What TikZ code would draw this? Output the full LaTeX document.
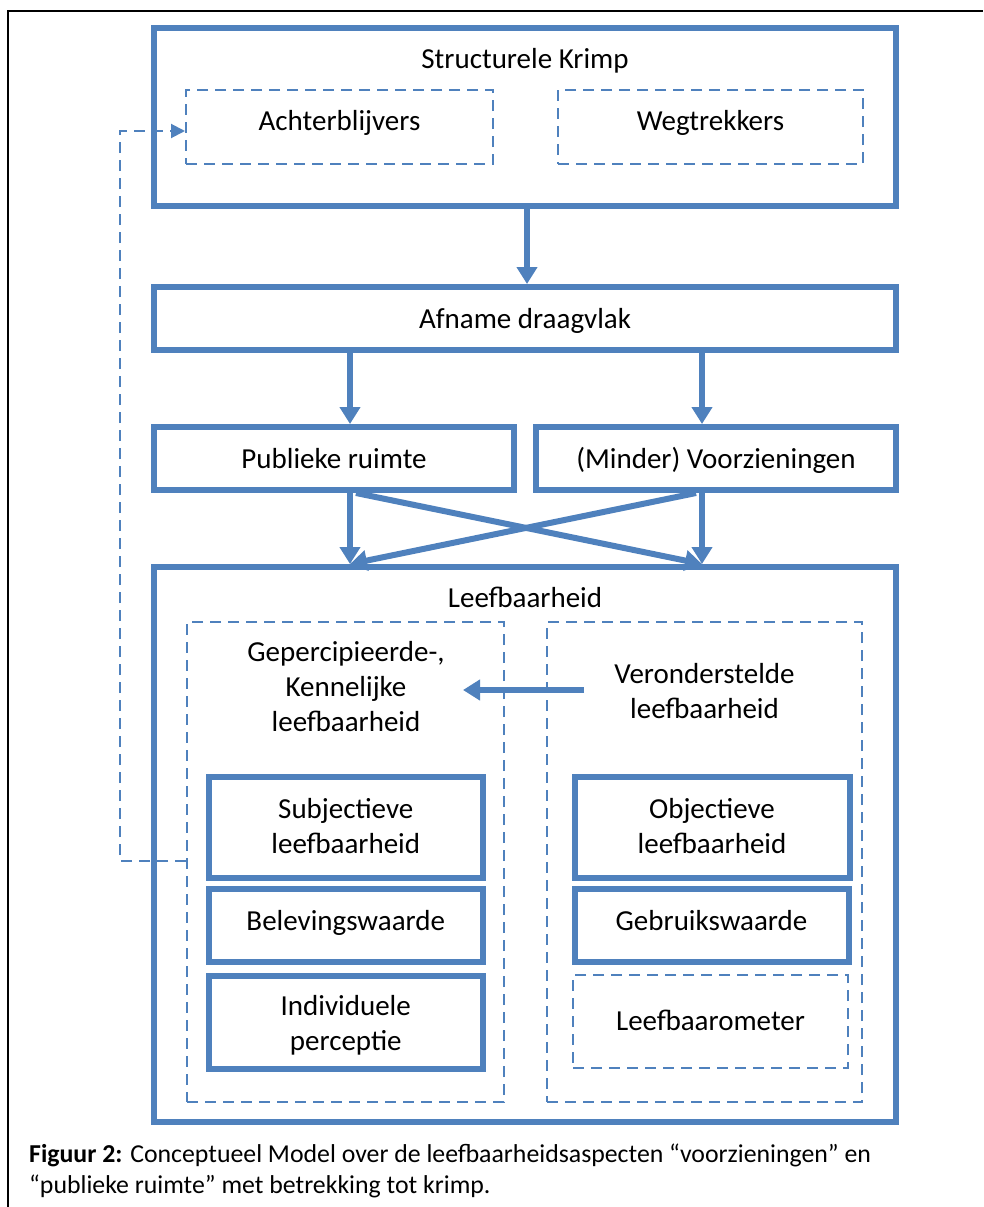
\documentclass[tikz,border=0pt]{standalone}
\usepackage{fontspec}
\setmainfont{Carlito}
\usetikzlibrary{arrows.meta,calc}
\definecolor{blu}{HTML}{4F81BD}
\begin{document}
\begin{tikzpicture}[x=1pt,y=-1pt,
  box/.style={draw=blu, line width=6pt, rectangle, inner sep=0pt},
  dbox/.style={draw=blu, line width=2pt, dash pattern=on 11pt off 7pt, rectangle, inner sep=0pt},
  txt/.style={font=\fontsize{29}{35}\selectfont, inner sep=0pt, anchor=base, text=black},
  arr/.style={draw=blu, line width=6pt, -{Triangle[length=17pt,width=20pt]}},
  fb/.style={draw=blu, line width=2pt, dash pattern=on 11pt off 7pt, -{Triangle[length=14pt,width=14pt]}},
  captxt/.style={font=\fontsize{25.8}{32}\selectfont, inner sep=0pt, anchor=base west, text=black}]
\useasboundingbox (0,0) rectangle (983,1207);
\fill[white] (0,0) rectangle (983,1207);
\draw[line width=2.5pt] (8,1207) -- (8,11) -- (983,11);

% top block
\node[box, minimum width=742pt, minimum height=178pt] (sk) at (525,117) {};
\node[txt] (skt) at (525,69) {Structurele Krimp};
\node[dbox, minimum width=307pt, minimum height=74pt] (achter) at (339.5,127) {};
\node[txt] (achtert) at (339.5,130) {Achterblijvers};
\node[dbox, minimum width=305pt, minimum height=74pt] (weg) at (710.5,127) {};
\node[txt] (wegt) at (710.5,130) {Wegtrekkers};

\node[box, minimum width=742pt, minimum height=63pt] (afn) at (525,318.5) {};
\node[txt] (afnt) at (525,328) {Afname draagvlak};

\node[box, minimum width=360pt, minimum height=63pt] (pub) at (334,458.5) {};
\node[txt] (pubt) at (334,468) {Publieke ruimte};
\node[box, minimum width=360pt, minimum height=63pt] (voor) at (716,458.5) {};
\node[txt] (voort) at (716,468) {(Minder) Voorzieningen};

% Leefbaarheid block
\node[box, minimum width=742pt, minimum height=555pt] (leef) at (525,844.5) {};
\node[txt] (leeft) at (525,607) {Leefbaarheid};
\node[dbox, minimum width=317pt, minimum height=480pt] (gep) at (345.5,862) {};
\node[dbox, minimum width=315pt, minimum height=480pt] (ver) at (704.5,862) {};
\node[txt] (gep1) at (346,661) {Gepercipieerde-,};
\node[txt] (gep2) at (346,696) {Kennelijke};
\node[txt] (gep3) at (346,731) {leefbaarheid};
\node[txt] (ver1) at (704.5,683) {Veronderstelde};
\node[txt] (ver2) at (704.5,718) {leefbaarheid};

\node[box, minimum width=274.5pt, minimum height=101pt] (subj) at (345.75,827.5) {};
\node[txt] (subj1) at (345.75,818) {Subjectieve};
\node[txt] (subj2) at (345.75,853) {leefbaarheid};
\node[box, minimum width=274.5pt, minimum height=73pt] (bel) at (345.75,925.5) {};
\node[txt] (belt) at (345.75,930) {Belevingswaarde};
\node[box, minimum width=274.5pt, minimum height=93.5pt] (ind) at (345.75,1022.25) {};
\node[txt] (ind1) at (345.75,1015) {Individuele};
\node[txt] (ind2) at (345.75,1050) {perceptie};

\node[box, minimum width=275.5pt, minimum height=101pt] (obj) at (712.25,827.5) {};
\node[txt] (obj1) at (712,818) {Objectieve};
\node[txt] (obj2) at (712,853) {leefbaarheid};
\node[box, minimum width=274.5pt, minimum height=73pt] (geb) at (711.75,925.5) {};
\node[txt] (gebt) at (711.5,930) {Gebruikswaarde};
\node[dbox, minimum width=275pt, minimum height=93pt] (lbm) at (710.5,1021.5) {};
\node[txt] (lbmt) at (710.5,1030) {Leefbaarometer};

% connectors
\coordinate (xm) at (527,0);
\coordinate (xl) at (350,0);
\coordinate (xr) at (702,0);
\coordinate (xls) at (356,0);
\coordinate (xrs) at (696,0);
\draw[arr] (sk.south -| xm) -- (afn.north -| xm);
\draw[arr] (afn.south -| xl) -- (pub.north -| xl);
\draw[arr] (afn.south -| xr) -- (voor.north -| xr);
\draw[arr] (pub.south -| xl) -- (leef.north -| xl);
\draw[arr] (voor.south -| xr) -- (leef.north -| xr);
\draw[arr] (pub.south -| xls) -- (leef.north -| xr);
\draw[arr] (voor.south -| xrs) -- (leef.north -| xl);

\coordinate (hs) at (584,690);
\coordinate (he) at (463,690);
\draw[arr] (hs) -- (he);

\coordinate (fbc) at (120,861);
\draw[fb] (gep.west |- fbc) -- (fbc) |- ($(achter.west)+(0,4)$);

% caption
\node[captxt] (cap1) at (29,1162) {\textbf{Figuur 2:} Conceptueel Model over de leefbaarheidsaspecten “voorzieningen” en};
\node[captxt] (cap2) at (29,1193) {“publieke ruimte” met betrekking tot krimp.};
\end{tikzpicture}
\end{document}
